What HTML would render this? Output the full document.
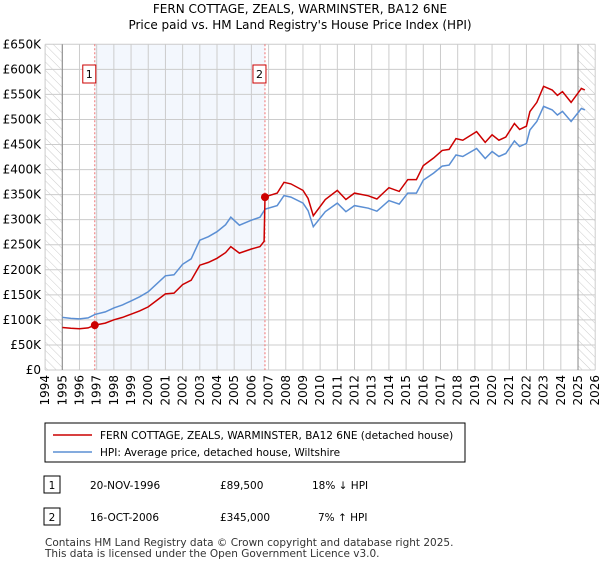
<!DOCTYPE html>
<html><head><meta charset="utf-8"><style>
body{margin:0;background:#fff;font-family:"Liberation Sans","DejaVu Sans",sans-serif;}
svg text{font-family:"DejaVu Sans","Liberation Sans",sans-serif;}
</style></head><body>
<svg id="c" width="600" height="560" viewBox="0 0 600 560" xmlns="http://www.w3.org/2000/svg">
<defs><pattern id="hatch" width="6" height="6" patternUnits="userSpaceOnUse" patternTransform="rotate(-45)"><line x1="0" y1="0" x2="0" y2="6" stroke="#ccc" stroke-width="1"/></pattern></defs>
<text x="300" y="13" text-anchor="middle" font-size="12" fill="#000">FERN COTTAGE, ZEALS, WARMINSTER, BA12 6NE</text>
<text x="300" y="29" text-anchor="middle" font-size="12" fill="#000">Price paid vs. HM Land Registry's House Price Index (HPI)</text>
<g id="plot"></g>
<rect x="45" y="423" width="420" height="39" fill="#fff" stroke="#000"/>
<line x1="53" y1="435" x2="92" y2="435" stroke="#cc0000" stroke-width="1.5"/>
<text x="100" y="439" font-size="10.5">FERN COTTAGE, ZEALS, WARMINSTER, BA12 6NE (detached house)</text>
<line x1="53" y1="452" x2="92" y2="452" stroke="#5b8fd4" stroke-width="1.5"/>
<text x="100" y="456" font-size="10.5">HPI: Average price, detached house, Wiltshire</text>
<g>
<rect x="44" y="476" width="16" height="17" fill="#fff" stroke="#000"/><text x="52" y="489" font-size="10.5" text-anchor="middle">1</text>
<text x="90" y="489" font-size="10.5">20-NOV-1996</text><text x="220" y="489" font-size="10.5">£89,500</text><text x="312" y="489" font-size="10.5">18% ↓ HPI</text></g>
<g>
<rect x="44" y="508" width="16" height="17" fill="#fff" stroke="#000"/><text x="52" y="521" font-size="10.5" text-anchor="middle">2</text>
<text x="90" y="521" font-size="10.5">16-OCT-2006</text><text x="220" y="521" font-size="10.5">£345,000</text><text x="318" y="521" font-size="10.5">7% ↑ HPI</text></g>
<text x="45" y="546" font-size="10.5" fill="#333">Contains HM Land Registry data © Crown copyright and database right 2025.</text>
<text x="45" y="557" font-size="10.5" fill="#333">This data is licensed under the Open Government Licence v3.0.</text>
</svg>
<script>
const hpiYears=[1995,1995.5,1996,1996.5,1996.9,1997.5,1998,1998.5,1999,1999.5,2000,2000.5,2001,2001.5,2002,2002.5,2003,2003.5,2004,2004.5,2004.8,2005.3,2006,2006.5,2006.8,2007.5,2007.9,2008.3,2009,2009.3,2009.6,2010.3,2011,2011.5,2012,2012.8,2013.3,2014,2014.6,2015.1,2015.6,2016,2016.6,2017.1,2017.5,2017.9,2018.3,2019.1,2019.6,2020,2020.4,2020.8,2021.3,2021.6,2022,2022.2,2022.6,2023,2023.5,2023.8,2024.1,2024.6,2025.2,2025.4];
const hpiValues=[105,103,102,104,111,116,124,130,138,146,156,172,188,190,211,222,259,266,276,290,305,289,299,305,321,328,348,345,333,318,286,316,333,316,328,323,317,338,331,353,353,379,393,407,409,429,426,442,422,436,426,432,457,446,452,479,496,526,519,509,516,496,522,519];
const saleYears=[1996.89,2006.79];
const salePrices=[89.5,345];
const yTicks=[0,50,100,150,200,250,300,350,400,450,500,550,600,650];
const yTickLabels=["£0","£50K","£100K","£150K","£200K","£250K","£300K","£350K","£400K","£450K","£500K","£550K","£600K","£650K"];
const xTicks=[1994,1995,1996,1997,1998,1999,2000,2001,2002,2003,2004,2005,2006,2007,2008,2009,2010,2011,2012,2013,2014,2015,2016,2017,2018,2019,2020,2021,2022,2023,2024,2025,2026];
const X0=45.1,X1=595.2,Y0=370,Y1=44.3;
const sx=y=>X0+(y-1994)/(32)*(X1-X0);
const sy=v=>Y0-(v/650)*(Y0-Y1);
const NS="http://www.w3.org/2000/svg",g=document.getElementById('plot');
function mk(t,a){const e=document.createElementNS(NS,t);for(const k in a)e.setAttribute(k,a[k]);g.appendChild(e);return e;}
let e;
e=mk('rect',{x:sx(1994),y:Y1,width:sx(1995)-sx(1994),height:Y0-Y1,fill:'url(#hatch)'});

e=mk('rect',{x:sx(2025),y:Y1,width:sx(2026)-sx(2025),height:Y0-Y1,fill:'url(#hatch)'});

e=mk('rect',{x:sx(saleYears[0]),y:Y1,width:sx(saleYears[1])-sx(saleYears[0]),height:Y0-Y1,fill:'#eef3fc',opacity:0.7});

yTicks.forEach((v,i)=>{e=mk('line',{x1:X0,x2:X1,y1:sy(v),y2:sy(v),stroke:'#ccc'});

e=mk('text',{x:41,y:sy(v)+4,'text-anchor':'end','font-size':12});e.textContent=yTickLabels[i];
});
xTicks.forEach(y=>{e=mk('line',{x1:sx(y),x2:sx(y),y1:Y1,y2:Y0,stroke:'#ccc'});

e=mk('text',{x:sx(y)+4,y:Y0+5,'text-anchor':'end','font-size':12,transform:`rotate(-90 ${sx(y)+4} ${Y0+5})`});e.textContent=y;
});
[1995,2025].forEach(y=>{e=mk('line',{x1:sx(y),x2:sx(y),y1:Y1,y2:Y0,stroke:'#888'});
});
function hpiAt(t){for(let i=1;i<hpiYears.length;i++)if(t<=hpiYears[i]){const f=(t-hpiYears[i-1])/(hpiYears[i]-hpiYears[i-1]);return hpiValues[i-1]+f*(hpiValues[i]-hpiValues[i-1]);}return hpiValues[hpiValues.length-1];}
saleYears.forEach((s,i)=>{e=mk('line',{x1:sx(s),x2:sx(s),y1:Y1,y2:Y0,stroke:'#f07070','stroke-dasharray':'2,2'});

e=mk('rect',{x:sx(s)-12,y:65,width:13,height:18,fill:'#fff',stroke:'#cc0000'});

e=mk('text',{x:sx(s)-5.5,y:78,'text-anchor':'middle','font-size':11});e.textContent=i+1;
});
e=mk('path',{d:hpiYears.map((y,i)=>(i?'L':'M')+sx(y).toFixed(1)+','+sy(hpiValues[i]).toFixed(1)).join(''),fill:'none',stroke:'#5b8fd4','stroke-width':1.5});

// property line: HPI scaled by each sale's ratio
const r=saleYears.map((s,i)=>salePrices[i]/hpiAt(s));
let pts=[];
hpiYears.forEach((y,i)=>{if(y<saleYears[1])pts.push([y,hpiValues[i]*(y<saleYears[0]?r[0]:r[0])]);});
pts.push([saleYears[1]-0.05,hpiAt(saleYears[1]-0.05)*r[0]]);
pts.push([saleYears[1],salePrices[1]]);
hpiYears.forEach((y,i)=>{if(y>saleYears[1])pts.push([y,hpiValues[i]*r[1]]);});
e=mk('path',{d:pts.map((p,i)=>(i?'L':'M')+sx(p[0]).toFixed(1)+','+sy(p[1]).toFixed(1)).join(''),fill:'none',stroke:'#cc0000','stroke-width':1.5});

saleYears.forEach((s,i)=>{e=mk('circle',{cx:sx(s),cy:sy(salePrices[i]),r:4,fill:'#cc0000'});
});
</script>
</body></html>
